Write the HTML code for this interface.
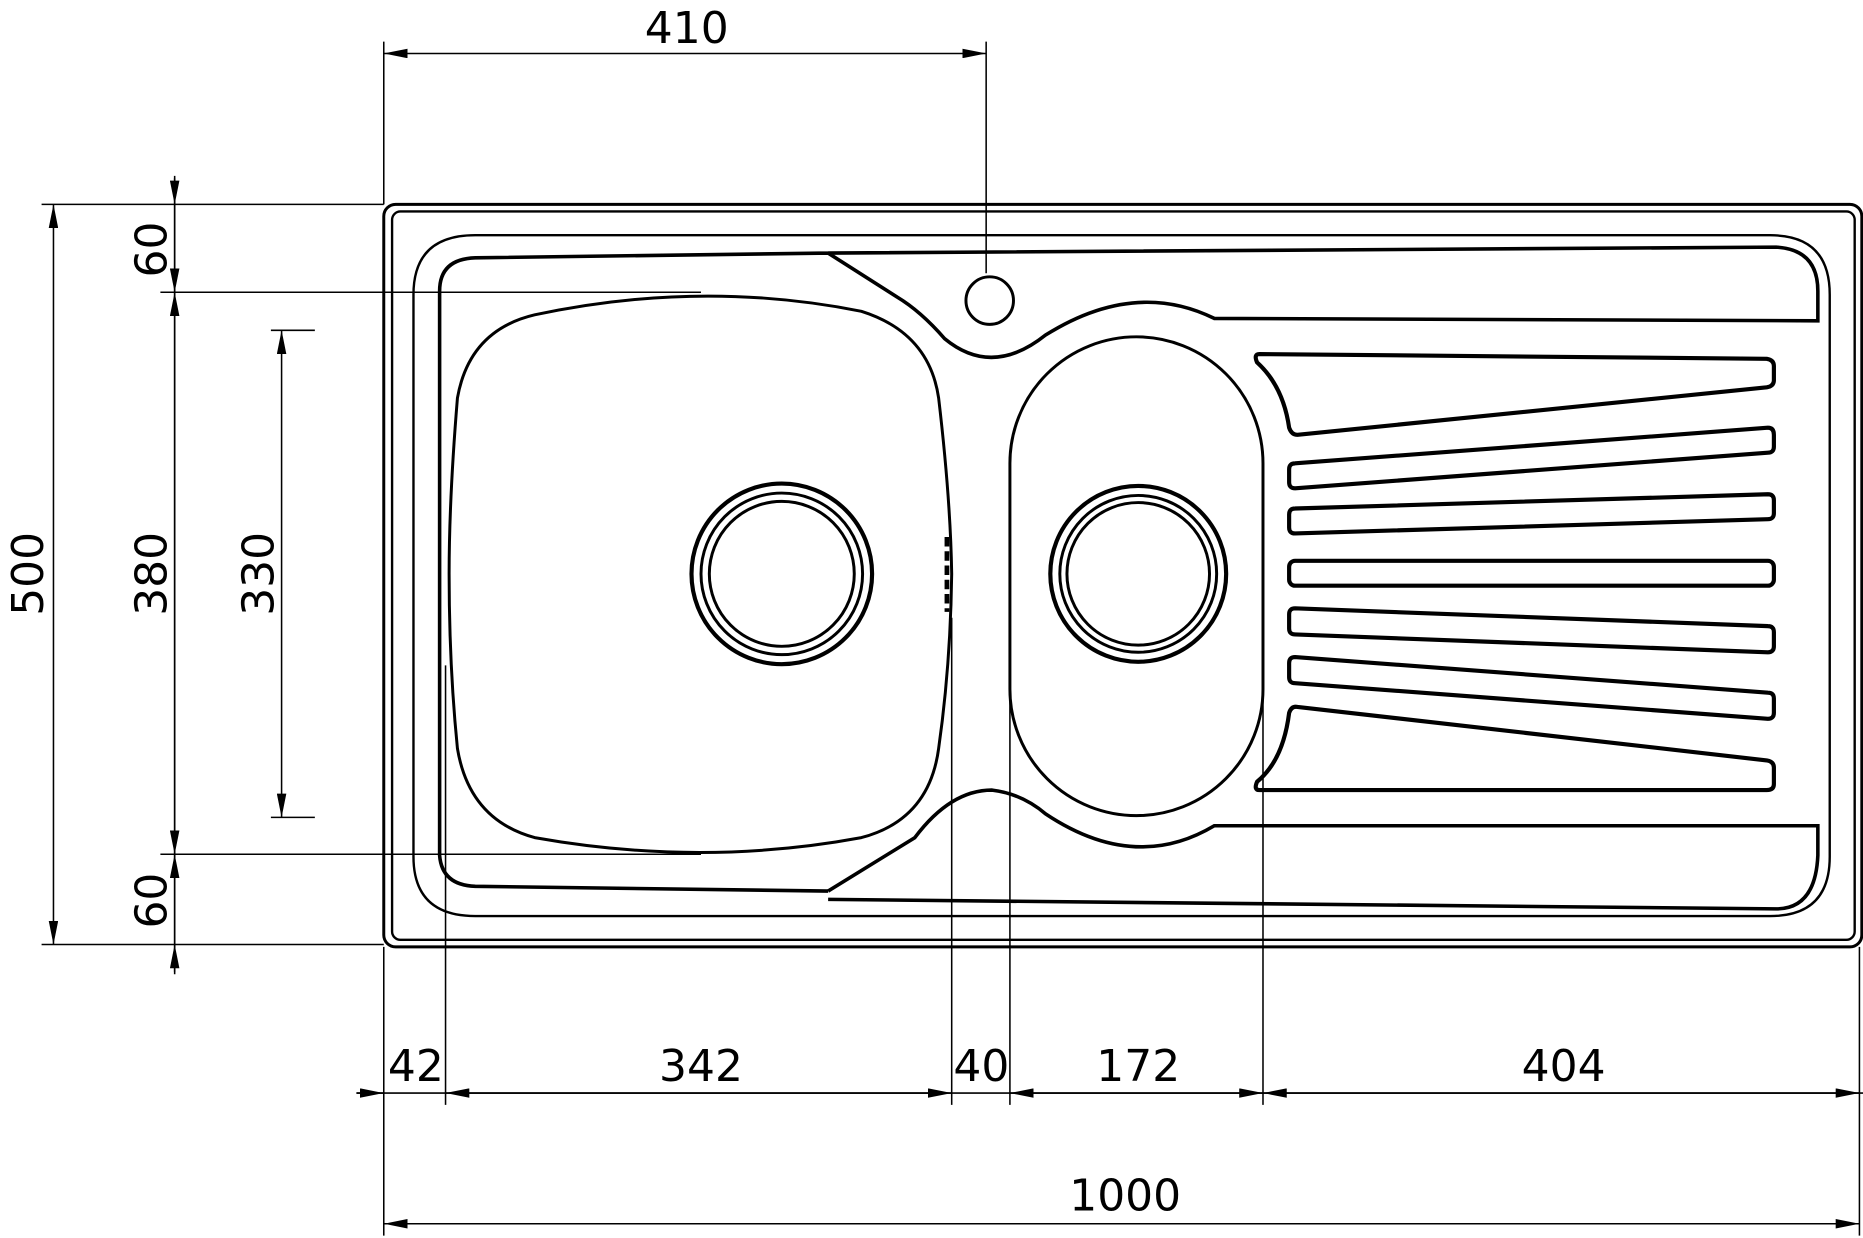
<!DOCTYPE html>
<html><head><style>html,body{margin:0;padding:0;background:#fff}svg{display:block}text{font-family:"DejaVu Sans","Liberation Sans",sans-serif;font-size:37px;fill:#000}</style></head>
<body>
<svg width="1863" height="1238" viewBox="0 0 1568 1042" preserveAspectRatio="none" xmlns="http://www.w3.org/2000/svg">
<defs><marker id="a" viewBox="0 0 20 8" refX="20" refY="4" markerWidth="20" markerHeight="8" markerUnits="userSpaceOnUse" orient="auto-start-reverse"><path d="M0,0 L20,4 L0,8 Z" fill="#000"/></marker></defs>
<g stroke="#000" fill="none" stroke-width="1.3">
<!-- top 410 -->
<line x1="323" y1="35" x2="323" y2="172"/><line x1="830" y1="35" x2="830" y2="230"/>
<line x1="323" y1="45" x2="830" y2="45" marker-start="url(#a)" marker-end="url(#a)"/>
<!-- left 500 -->
<line x1="35" y1="172" x2="323" y2="172"/><line x1="35" y1="795" x2="323" y2="795"/>
<line x1="45" y1="172" x2="45" y2="795" marker-start="url(#a)" marker-end="url(#a)"/>
<!-- 60/380/60 -->
<line x1="135" y1="246" x2="590" y2="246"/><line x1="135" y1="719" x2="590" y2="719"/>
<line x1="147" y1="148" x2="147" y2="820"/>
<line x1="147" y1="150" x2="147" y2="172" marker-end="url(#a)"/>
<line x1="147" y1="172" x2="147" y2="246" marker-end="url(#a)"/>
<line x1="147" y1="246" x2="147" y2="719" marker-start="url(#a)" marker-end="url(#a)"/>
<line x1="147" y1="719" x2="147" y2="795" marker-start="url(#a)"/>
<line x1="147" y1="818" x2="147" y2="795" marker-end="url(#a)"/>
<!-- 330 -->
<line x1="228" y1="278" x2="265" y2="278"/><line x1="228" y1="688" x2="265" y2="688"/>
<line x1="237" y1="278" x2="237" y2="688" marker-start="url(#a)" marker-end="url(#a)"/>
<!-- bottom ext lines -->
<line x1="323" y1="797" x2="323" y2="1040"/><line x1="1565" y1="797" x2="1565" y2="1040"/>
<line x1="375" y1="560" x2="375" y2="930"/><line x1="801" y1="520" x2="801" y2="930"/>
<line x1="850" y1="580" x2="850" y2="930"/><line x1="1063" y1="580" x2="1063" y2="930"/>
<line x1="300" y1="920" x2="1568" y2="920"/>
<line x1="300" y1="920" x2="323" y2="920" marker-end="url(#a)"/>
<line x1="375" y1="920" x2="801" y2="920" marker-start="url(#a)" marker-end="url(#a)"/>
<line x1="850" y1="920" x2="1063" y2="920" marker-start="url(#a)" marker-end="url(#a)"/>
<line x1="1063" y1="920" x2="1565" y2="920" marker-start="url(#a)" marker-end="url(#a)"/>
<line x1="323" y1="1030" x2="1565" y2="1030" marker-start="url(#a)" marker-end="url(#a)"/>
</g>
<g text-anchor="middle">
<text x="578" y="36">410</text>
<text transform="translate(36,483) rotate(-90)">500</text>
<text transform="translate(140,210) rotate(-90)">60</text>
<text transform="translate(140,483) rotate(-90)">380</text>
<text transform="translate(140,758) rotate(-90)">60</text>
<text transform="translate(230,483) rotate(-90)">330</text>
<text x="350" y="910">42</text><text x="590" y="910">342</text><text x="826" y="910">40</text>
<text x="958" y="910">172</text><text x="1316" y="910">404</text><text x="947" y="1019">1000</text>
</g>
<g stroke="#000" fill="none" stroke-width="2.5">
<rect x="323" y="172" width="1244" height="625" rx="10"/>
<rect x="330" y="178" width="1231" height="613" rx="7" stroke-width="2"/>
<path d="M400,198 L1490,198 Q1540,198 1540,248 L1540,721 Q1540,771 1490,771 L400,771 Q348,771 348,721 L348,248 Q348,198 400,198 Z" stroke-width="2"/>
<path d="M697,213 L1495,208 Q1530,210 1530,245 L1530,270 L1022,268 Q955,235 880,282 Q835,318 795,285 Q775,262 755,250 L697,213 L400,217 Q370,218 370,245 L370,720 Q372,745 400,746 L697,750" stroke-width="3"/>
<path d="M697,750 L770,705 Q800,665 835,665 Q860,668 880,685 Q955,735 1022,695 L1530,695 L1530,720 Q1528,765 1495,765 L697,757" stroke-width="3"/>
<path d="M450,265 Q590,235 725,262 Q782,280 790,335 Q800,420 801,483 Q800,560 790,630 Q782,690 725,705 Q590,730 450,705 Q395,690 385,630 Q378,560 378,483 Q378,420 385,335 Q395,278 450,265 Z"/>
<path d="M850,390 A106,106 0 0 1 1063,390 L1063,580 A106,106 0 0 1 850,580 Z"/>
<circle cx="833" cy="253" r="20"/>
<circle cx="658" cy="483" r="76" stroke-width="3.5"/><circle cx="658" cy="483" r="68"/><circle cx="658" cy="483" r="61"/>
<circle cx="958" cy="483" r="74" stroke-width="3.5"/><circle cx="958" cy="483" r="66"/><circle cx="958" cy="483" r="60"/>
<g stroke-width="3.5" stroke-linejoin="round">
<path d="M1060,298 L1487,302 Q1493,303 1493,308 L1493,320 Q1493,325 1487,326 L1092,366 Q1087,366 1085,360 Q1080,325 1058,305 Q1055,298 1060,298 Z"/>
<path d="M1090,390 L1488,360 Q1493,360 1493,366 L1493,376 Q1493,381 1488,381 L1090,411 Q1085,411 1085,406 L1085,395 Q1085,390 1090,390 Z"/>
<path d="M1090,428 L1488,416 Q1493,416 1493,421 L1493,432 Q1493,437 1488,437 L1090,449 Q1085,449 1085,444 L1085,433 Q1085,428 1090,428 Z"/>
<rect x="1085" y="472" width="408" height="21" rx="5"/>
<path d="M1090,512 L1488,527 Q1493,527 1493,532 L1493,544 Q1493,549 1488,549 L1090,534 Q1085,534 1085,529 L1085,517 Q1085,512 1090,512 Z"/>
<path d="M1090,553 L1488,583 Q1493,583 1493,588 L1493,600 Q1493,605 1488,605 L1090,575 Q1085,575 1085,570 L1085,558 Q1085,553 1090,553 Z"/>
<path d="M1092,595 L1487,640 Q1493,641 1493,646 L1493,660 Q1493,665 1487,665 L1060,665 Q1055,665 1058,658 Q1080,640 1085,600 Q1087,594 1092,595 Z"/>
</g>
<path d="M797,452 L797,515" stroke-width="4" stroke-dasharray="8,4"/>
</g>
</svg>
</body></html>
